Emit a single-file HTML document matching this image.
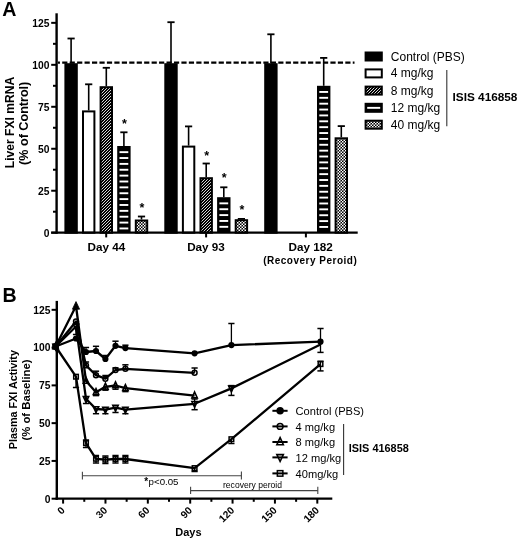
<!DOCTYPE html>
<html><head><meta charset="utf-8"><title>FXI</title>
<style>
html,body{margin:0;padding:0;background:#fff;}
body{width:520px;height:541px;overflow:hidden;}
svg{display:block;font-family:"Liberation Sans", sans-serif;filter:grayscale(1);}
</style></head>
<body>
<svg width="520" height="541" viewBox="0 0 520 541">
<defs>
<pattern id="hatch" patternUnits="userSpaceOnUse" width="3" height="3">
<rect width="3" height="3" fill="#000"/>
<path d="M-1 1 L1 -1 M0 3 L3 0 M2 4 L4 2" stroke="#fff" stroke-width="0.85"/>
</pattern>
<pattern id="checks" patternUnits="userSpaceOnUse" width="3" height="3">
<rect width="3" height="3" fill="#000"/>
<rect x="0" y="0" width="1.5" height="1.5" fill="#fff"/>
<rect x="1.5" y="1.5" width="1.5" height="1.5" fill="#fff"/>
</pattern>
<pattern id="stripes" patternUnits="userSpaceOnUse" width="10" height="5.87">
<rect width="10" height="5.87" fill="#000"/>
</pattern>
</defs>
<rect width="520" height="541" fill="#fff"/>
<text x="2.2" y="15.6" font-size="19.6" font-weight="bold">A</text>
<line x1="56.6" y1="13.3" x2="56.6" y2="233.8" stroke="#000" stroke-width="2.4"/>
<line x1="51.2" y1="232.7" x2="56.6" y2="232.7" stroke="#000" stroke-width="2"/>
<text x="49.4" y="236.5" font-size="10.3" font-weight="bold" text-anchor="end">0</text>
<line x1="51.2" y1="190.73" x2="56.6" y2="190.73" stroke="#000" stroke-width="2"/>
<text x="49.4" y="194.53" font-size="10.3" font-weight="bold" text-anchor="end">25</text>
<line x1="51.2" y1="148.76" x2="56.6" y2="148.76" stroke="#000" stroke-width="2"/>
<text x="49.4" y="152.56" font-size="10.3" font-weight="bold" text-anchor="end">50</text>
<line x1="51.2" y1="106.79" x2="56.6" y2="106.79" stroke="#000" stroke-width="2"/>
<text x="49.4" y="110.59" font-size="10.3" font-weight="bold" text-anchor="end">75</text>
<line x1="51.2" y1="64.82" x2="56.6" y2="64.82" stroke="#000" stroke-width="2"/>
<text x="49.4" y="68.62" font-size="10.3" font-weight="bold" text-anchor="end">100</text>
<line x1="51.2" y1="22.85" x2="56.6" y2="22.85" stroke="#000" stroke-width="2"/>
<text x="49.4" y="26.65" font-size="10.3" font-weight="bold" text-anchor="end">125</text>
<line x1="53" y1="211.71" x2="56.6" y2="211.71" stroke="#000" stroke-width="2"/>
<line x1="53" y1="169.74" x2="56.6" y2="169.74" stroke="#000" stroke-width="2"/>
<line x1="53" y1="127.77" x2="56.6" y2="127.77" stroke="#000" stroke-width="2"/>
<line x1="53" y1="85.8" x2="56.6" y2="85.8" stroke="#000" stroke-width="2"/>
<line x1="53" y1="43.83" x2="56.6" y2="43.83" stroke="#000" stroke-width="2"/>
<line x1="71.1" y1="38.5" x2="71.1" y2="63.2" stroke="#000" stroke-width="1.6"/>
<line x1="67.5" y1="38.5" x2="74.7" y2="38.5" stroke="#000" stroke-width="1.8"/>
<rect x="65.4" y="64.2" width="11.4" height="168.5" fill="#000" stroke="#000" stroke-width="2"/>
<line x1="88.7" y1="84.3" x2="88.7" y2="110.4" stroke="#000" stroke-width="1.6"/>
<line x1="85.1" y1="84.3" x2="92.3" y2="84.3" stroke="#000" stroke-width="1.8"/>
<rect x="83" y="111.4" width="11.4" height="121.3" fill="#fff" stroke="#000" stroke-width="2"/>
<line x1="106.3" y1="67.8" x2="106.3" y2="86.2" stroke="#000" stroke-width="1.6"/>
<line x1="102.7" y1="67.8" x2="109.9" y2="67.8" stroke="#000" stroke-width="1.8"/>
<rect x="100.6" y="87.2" width="11.4" height="145.5" fill="url(#hatch)" stroke="#000" stroke-width="2"/>
<line x1="123.9" y1="132.3" x2="123.9" y2="146" stroke="#000" stroke-width="1.6"/>
<line x1="120.3" y1="132.3" x2="127.5" y2="132.3" stroke="#000" stroke-width="1.8"/>
<rect x="117.2" y="146" width="13.4" height="86.7" fill="#000"/>
<rect x="119.5" y="151.2" width="8.8" height="1.9" fill="#fff"/>
<rect x="119.5" y="157.07" width="8.8" height="1.9" fill="#fff"/>
<rect x="119.5" y="162.94" width="8.8" height="1.9" fill="#fff"/>
<rect x="119.5" y="168.81" width="8.8" height="1.9" fill="#fff"/>
<rect x="119.5" y="174.68" width="8.8" height="1.9" fill="#fff"/>
<rect x="119.5" y="180.55" width="8.8" height="1.9" fill="#fff"/>
<rect x="119.5" y="186.42" width="8.8" height="1.9" fill="#fff"/>
<rect x="119.5" y="192.29" width="8.8" height="1.9" fill="#fff"/>
<rect x="119.5" y="198.16" width="8.8" height="1.9" fill="#fff"/>
<rect x="119.5" y="204.03" width="8.8" height="1.9" fill="#fff"/>
<rect x="119.5" y="209.9" width="8.8" height="1.9" fill="#fff"/>
<rect x="119.5" y="215.77" width="8.8" height="1.9" fill="#fff"/>
<rect x="119.5" y="221.64" width="8.8" height="1.9" fill="#fff"/>
<rect x="119.5" y="227.51" width="8.8" height="1.9" fill="#fff"/>
<text x="124.4" y="128" font-size="12.5" font-weight="bold" text-anchor="middle">*</text>
<line x1="141.5" y1="216.5" x2="141.5" y2="219.5" stroke="#000" stroke-width="1.6"/>
<line x1="137.9" y1="216.5" x2="145.1" y2="216.5" stroke="#000" stroke-width="1.8"/>
<rect x="135.8" y="220.5" width="11.4" height="12.2" fill="url(#checks)" stroke="#000" stroke-width="2"/>
<text x="142" y="212" font-size="12.5" font-weight="bold" text-anchor="middle">*</text>
<line x1="171" y1="22.2" x2="171" y2="63.2" stroke="#000" stroke-width="1.6"/>
<line x1="167.4" y1="22.2" x2="174.6" y2="22.2" stroke="#000" stroke-width="1.8"/>
<rect x="165.3" y="64.2" width="11.4" height="168.5" fill="#000" stroke="#000" stroke-width="2"/>
<line x1="188.6" y1="126.4" x2="188.6" y2="145.6" stroke="#000" stroke-width="1.6"/>
<line x1="185" y1="126.4" x2="192.2" y2="126.4" stroke="#000" stroke-width="1.8"/>
<rect x="182.9" y="146.6" width="11.4" height="86.1" fill="#fff" stroke="#000" stroke-width="2"/>
<line x1="206.2" y1="163.5" x2="206.2" y2="177.2" stroke="#000" stroke-width="1.6"/>
<line x1="202.6" y1="163.5" x2="209.8" y2="163.5" stroke="#000" stroke-width="1.8"/>
<rect x="200.5" y="178.2" width="11.4" height="54.5" fill="url(#hatch)" stroke="#000" stroke-width="2"/>
<text x="206.7" y="159.9" font-size="12.5" font-weight="bold" text-anchor="middle">*</text>
<line x1="223.8" y1="187.3" x2="223.8" y2="197.2" stroke="#000" stroke-width="1.6"/>
<line x1="220.2" y1="187.3" x2="227.4" y2="187.3" stroke="#000" stroke-width="1.8"/>
<rect x="217.1" y="197.2" width="13.4" height="35.5" fill="#000"/>
<rect x="219.4" y="202.4" width="8.8" height="1.9" fill="#fff"/>
<rect x="219.4" y="208.27" width="8.8" height="1.9" fill="#fff"/>
<rect x="219.4" y="214.14" width="8.8" height="1.9" fill="#fff"/>
<rect x="219.4" y="220.01" width="8.8" height="1.9" fill="#fff"/>
<rect x="219.4" y="225.88" width="8.8" height="1.9" fill="#fff"/>
<text x="224.3" y="181.9" font-size="12.5" font-weight="bold" text-anchor="middle">*</text>
<line x1="241.4" y1="218.9" x2="241.4" y2="219.2" stroke="#000" stroke-width="1.6"/>
<line x1="237.8" y1="218.9" x2="245" y2="218.9" stroke="#000" stroke-width="1.8"/>
<rect x="235.7" y="220.2" width="11.4" height="12.5" fill="url(#checks)" stroke="#000" stroke-width="2"/>
<text x="241.9" y="213.5" font-size="12.5" font-weight="bold" text-anchor="middle">*</text>
<line x1="270.9" y1="34.3" x2="270.9" y2="63.2" stroke="#000" stroke-width="1.6"/>
<line x1="267.3" y1="34.3" x2="274.5" y2="34.3" stroke="#000" stroke-width="1.8"/>
<rect x="265.2" y="64.2" width="11.4" height="168.5" fill="#000" stroke="#000" stroke-width="2"/>
<line x1="323.7" y1="57.9" x2="323.7" y2="85.8" stroke="#000" stroke-width="1.6"/>
<line x1="320.1" y1="57.9" x2="327.3" y2="57.9" stroke="#000" stroke-width="1.8"/>
<rect x="317" y="85.8" width="13.4" height="146.9" fill="#000"/>
<rect x="319.3" y="91" width="8.8" height="1.9" fill="#fff"/>
<rect x="319.3" y="96.87" width="8.8" height="1.9" fill="#fff"/>
<rect x="319.3" y="102.74" width="8.8" height="1.9" fill="#fff"/>
<rect x="319.3" y="108.61" width="8.8" height="1.9" fill="#fff"/>
<rect x="319.3" y="114.48" width="8.8" height="1.9" fill="#fff"/>
<rect x="319.3" y="120.35" width="8.8" height="1.9" fill="#fff"/>
<rect x="319.3" y="126.22" width="8.8" height="1.9" fill="#fff"/>
<rect x="319.3" y="132.09" width="8.8" height="1.9" fill="#fff"/>
<rect x="319.3" y="137.96" width="8.8" height="1.9" fill="#fff"/>
<rect x="319.3" y="143.83" width="8.8" height="1.9" fill="#fff"/>
<rect x="319.3" y="149.7" width="8.8" height="1.9" fill="#fff"/>
<rect x="319.3" y="155.57" width="8.8" height="1.9" fill="#fff"/>
<rect x="319.3" y="161.44" width="8.8" height="1.9" fill="#fff"/>
<rect x="319.3" y="167.31" width="8.8" height="1.9" fill="#fff"/>
<rect x="319.3" y="173.18" width="8.8" height="1.9" fill="#fff"/>
<rect x="319.3" y="179.05" width="8.8" height="1.9" fill="#fff"/>
<rect x="319.3" y="184.92" width="8.8" height="1.9" fill="#fff"/>
<rect x="319.3" y="190.79" width="8.8" height="1.9" fill="#fff"/>
<rect x="319.3" y="196.66" width="8.8" height="1.9" fill="#fff"/>
<rect x="319.3" y="202.53" width="8.8" height="1.9" fill="#fff"/>
<rect x="319.3" y="208.4" width="8.8" height="1.9" fill="#fff"/>
<rect x="319.3" y="214.27" width="8.8" height="1.9" fill="#fff"/>
<rect x="319.3" y="220.14" width="8.8" height="1.9" fill="#fff"/>
<rect x="319.3" y="226.01" width="8.8" height="1.9" fill="#fff"/>
<line x1="341.3" y1="126.1" x2="341.3" y2="137.3" stroke="#000" stroke-width="1.6"/>
<line x1="337.7" y1="126.1" x2="344.9" y2="126.1" stroke="#000" stroke-width="1.8"/>
<rect x="335.6" y="138.3" width="11.4" height="94.4" fill="url(#checks)" stroke="#000" stroke-width="2"/>
<line x1="58" y1="62.6" x2="354.5" y2="62.6" stroke="#000" stroke-width="2.1" stroke-dasharray="5.2 2.25" stroke-dashoffset="3.25"/>
<line x1="51.2" y1="232.7" x2="357.7" y2="232.7" stroke="#000" stroke-width="2.3"/>
<line x1="106.2" y1="232.7" x2="106.2" y2="237.4" stroke="#000" stroke-width="2"/>
<line x1="206.1" y1="232.7" x2="206.1" y2="237.4" stroke="#000" stroke-width="2"/>
<line x1="305.9" y1="232.7" x2="305.9" y2="237.4" stroke="#000" stroke-width="2"/>
<text x="106.3" y="251.2" font-size="11.7" font-weight="bold" text-anchor="middle">Day 44</text>
<text x="206" y="251.2" font-size="11.7" font-weight="bold" text-anchor="middle">Day 93</text>
<text x="310.7" y="251.2" font-size="11.7" font-weight="bold" text-anchor="middle">Day 182</text>
<text x="310.2" y="264.2" font-size="10" font-weight="bold" text-anchor="middle" letter-spacing="0.5">(Recovery Peroid)</text>
<text transform="translate(14.1 122.5) rotate(-90)" font-size="12.1" font-weight="bold" text-anchor="middle">Liver FXI mRNA</text>
<text transform="translate(27.9 123.3) rotate(-90)" font-size="12.6" font-weight="bold" text-anchor="middle">(% of Control)</text>
<rect x="364.6" y="51.5" width="18.2" height="10" fill="#000"/>
<text x="390.8" y="60.5" font-size="12">Control (PBS)</text>
<rect x="365.6" y="69.4" width="16.2" height="8" fill="#fff" stroke="#000" stroke-width="2"/>
<text x="390.8" y="77.4" font-size="12">4 mg/kg</text>
<rect x="365.6" y="86.6" width="16.2" height="8" fill="url(#hatch)" stroke="#000" stroke-width="2"/>
<text x="390.8" y="94.6" font-size="12">8 mg/kg</text>
<rect x="364.6" y="102.8" width="18.2" height="10" fill="#000"/>
<rect x="367.2" y="106.9" width="13" height="1.9" fill="#fff"/>
<text x="390.8" y="111.8" font-size="12">12 mg/kg</text>
<rect x="365.6" y="120.7" width="16.2" height="8" fill="url(#checks)" stroke="#000" stroke-width="2"/>
<text x="390.8" y="128.7" font-size="12">40 mg/kg</text>
<line x1="446.8" y1="70" x2="446.8" y2="126.2" stroke="#333" stroke-width="1.1"/>
<text x="452.5" y="100.8" font-size="11.8" font-weight="bold">ISIS 416858</text>
<text x="2.4" y="301.6" font-size="19.6" font-weight="bold">B</text>
<line x1="56.8" y1="300.9" x2="56.8" y2="499.8" stroke="#000" stroke-width="2.4"/>
<line x1="51.6" y1="498.7" x2="56.8" y2="498.7" stroke="#000" stroke-width="2"/>
<text x="50.4" y="502.5" font-size="10.3" font-weight="bold" text-anchor="end">0</text>
<line x1="51.6" y1="460.93" x2="56.8" y2="460.93" stroke="#000" stroke-width="2"/>
<text x="50.4" y="464.73" font-size="10.3" font-weight="bold" text-anchor="end">25</text>
<line x1="51.6" y1="423.15" x2="56.8" y2="423.15" stroke="#000" stroke-width="2"/>
<text x="50.4" y="426.95" font-size="10.3" font-weight="bold" text-anchor="end">50</text>
<line x1="51.6" y1="385.38" x2="56.8" y2="385.38" stroke="#000" stroke-width="2"/>
<text x="50.4" y="389.18" font-size="10.3" font-weight="bold" text-anchor="end">75</text>
<line x1="51.6" y1="347.6" x2="56.8" y2="347.6" stroke="#000" stroke-width="2"/>
<text x="50.4" y="351.4" font-size="10.3" font-weight="bold" text-anchor="end">100</text>
<line x1="51.6" y1="309.82" x2="56.8" y2="309.82" stroke="#000" stroke-width="2"/>
<text x="50.4" y="313.62" font-size="10.3" font-weight="bold" text-anchor="end">125</text>
<line x1="55.6" y1="498.6" x2="332.3" y2="498.6" stroke="#000" stroke-width="2.1"/>
<line x1="63.1" y1="498.5" x2="63.1" y2="503.6" stroke="#000" stroke-width="2"/>
<text transform="translate(65.6 511.1) rotate(-45)" font-size="10.2" font-weight="bold" text-anchor="end">0</text>
<line x1="84.28" y1="498.5" x2="84.28" y2="501.8" stroke="#000" stroke-width="2"/>
<line x1="105.47" y1="498.5" x2="105.47" y2="503.6" stroke="#000" stroke-width="2"/>
<text transform="translate(107.97 511.1) rotate(-45)" font-size="10.2" font-weight="bold" text-anchor="end">30</text>
<line x1="126.65" y1="498.5" x2="126.65" y2="501.8" stroke="#000" stroke-width="2"/>
<line x1="147.83" y1="498.5" x2="147.83" y2="503.6" stroke="#000" stroke-width="2"/>
<text transform="translate(150.33 511.1) rotate(-45)" font-size="10.2" font-weight="bold" text-anchor="end">60</text>
<line x1="169.01" y1="498.5" x2="169.01" y2="501.8" stroke="#000" stroke-width="2"/>
<line x1="190.2" y1="498.5" x2="190.2" y2="503.6" stroke="#000" stroke-width="2"/>
<text transform="translate(192.7 511.1) rotate(-45)" font-size="10.2" font-weight="bold" text-anchor="end">90</text>
<line x1="211.38" y1="498.5" x2="211.38" y2="501.8" stroke="#000" stroke-width="2"/>
<line x1="232.56" y1="498.5" x2="232.56" y2="503.6" stroke="#000" stroke-width="2"/>
<text transform="translate(235.06 511.1) rotate(-45)" font-size="10.2" font-weight="bold" text-anchor="end">120</text>
<line x1="253.75" y1="498.5" x2="253.75" y2="501.8" stroke="#000" stroke-width="2"/>
<line x1="274.93" y1="498.5" x2="274.93" y2="503.6" stroke="#000" stroke-width="2"/>
<text transform="translate(277.43 511.1) rotate(-45)" font-size="10.2" font-weight="bold" text-anchor="end">150</text>
<line x1="296.11" y1="498.5" x2="296.11" y2="501.8" stroke="#000" stroke-width="2"/>
<line x1="317.3" y1="498.5" x2="317.3" y2="503.6" stroke="#000" stroke-width="2"/>
<text transform="translate(319.8 511.1) rotate(-45)" font-size="10.2" font-weight="bold" text-anchor="end">180</text>
<text x="188.4" y="535.8" font-size="11" font-weight="bold" text-anchor="middle">Days</text>
<text transform="translate(17.3 399.7) rotate(-90)" font-size="10.8" font-weight="bold" text-anchor="middle">Plasma FXI Activity</text>
<text transform="translate(30.4 400) rotate(-90)" font-size="11.3" font-weight="bold" text-anchor="middle">(% of Baseline)</text>
<line x1="86" y1="352" x2="86" y2="347.5" stroke="#000" stroke-width="1.3"/>
<line x1="82.9" y1="347.5" x2="89.1" y2="347.5" stroke="#000" stroke-width="1.5"/>
<line x1="96" y1="351" x2="96" y2="346.3" stroke="#000" stroke-width="1.3"/>
<line x1="92.9" y1="346.3" x2="99.1" y2="346.3" stroke="#000" stroke-width="1.5"/>
<line x1="105.4" y1="359" x2="105.4" y2="355.5" stroke="#000" stroke-width="1.3"/>
<line x1="102.3" y1="355.5" x2="108.5" y2="355.5" stroke="#000" stroke-width="1.5"/>
<line x1="115.5" y1="345.8" x2="115.5" y2="341.2" stroke="#000" stroke-width="1.3"/>
<line x1="112.4" y1="341.2" x2="118.6" y2="341.2" stroke="#000" stroke-width="1.5"/>
<line x1="125.4" y1="348.1" x2="125.4" y2="345.2" stroke="#000" stroke-width="1.3"/>
<line x1="122.3" y1="345.2" x2="128.5" y2="345.2" stroke="#000" stroke-width="1.5"/>
<line x1="231.4" y1="345.1" x2="231.4" y2="323.5" stroke="#000" stroke-width="1.3"/>
<line x1="228.3" y1="323.5" x2="234.5" y2="323.5" stroke="#000" stroke-width="1.5"/>
<line x1="320.5" y1="341.7" x2="320.5" y2="328.5" stroke="#000" stroke-width="1.3"/>
<line x1="317.4" y1="328.5" x2="323.6" y2="328.5" stroke="#000" stroke-width="1.5"/>
<line x1="320.5" y1="341.7" x2="320.5" y2="352.4" stroke="#000" stroke-width="1.3"/>
<line x1="317.4" y1="352.4" x2="323.6" y2="352.4" stroke="#000" stroke-width="1.5"/>
<line x1="86" y1="365.4" x2="86" y2="362" stroke="#000" stroke-width="1.3"/>
<line x1="82.9" y1="362" x2="89.1" y2="362" stroke="#000" stroke-width="1.5"/>
<line x1="96" y1="375.2" x2="96" y2="371.2" stroke="#000" stroke-width="1.3"/>
<line x1="92.9" y1="371.2" x2="99.1" y2="371.2" stroke="#000" stroke-width="1.5"/>
<line x1="105.4" y1="378.7" x2="105.4" y2="375.5" stroke="#000" stroke-width="1.3"/>
<line x1="102.3" y1="375.5" x2="108.5" y2="375.5" stroke="#000" stroke-width="1.5"/>
<line x1="115.5" y1="370" x2="115.5" y2="367.9" stroke="#000" stroke-width="1.3"/>
<line x1="112.4" y1="367.9" x2="118.6" y2="367.9" stroke="#000" stroke-width="1.5"/>
<line x1="125.4" y1="368.8" x2="125.4" y2="364.8" stroke="#000" stroke-width="1.3"/>
<line x1="122.3" y1="364.8" x2="128.5" y2="364.8" stroke="#000" stroke-width="1.5"/>
<line x1="194.6" y1="372.8" x2="194.6" y2="368" stroke="#000" stroke-width="1.3"/>
<line x1="191.5" y1="368" x2="197.7" y2="368" stroke="#000" stroke-width="1.5"/>
<line x1="96" y1="392.2" x2="96" y2="395.6" stroke="#000" stroke-width="1.3"/>
<line x1="92.9" y1="395.6" x2="99.1" y2="395.6" stroke="#000" stroke-width="1.5"/>
<line x1="105.4" y1="386.8" x2="105.4" y2="390.2" stroke="#000" stroke-width="1.3"/>
<line x1="102.3" y1="390.2" x2="108.5" y2="390.2" stroke="#000" stroke-width="1.5"/>
<line x1="115.5" y1="385.5" x2="115.5" y2="389.2" stroke="#000" stroke-width="1.3"/>
<line x1="112.4" y1="389.2" x2="118.6" y2="389.2" stroke="#000" stroke-width="1.5"/>
<line x1="125.4" y1="388.2" x2="125.4" y2="391.6" stroke="#000" stroke-width="1.3"/>
<line x1="122.3" y1="391.6" x2="128.5" y2="391.6" stroke="#000" stroke-width="1.5"/>
<line x1="76" y1="326.5" x2="76" y2="334.5" stroke="#000" stroke-width="1.3"/>
<line x1="72.9" y1="334.5" x2="79.1" y2="334.5" stroke="#000" stroke-width="1.5"/>
<line x1="86" y1="398.9" x2="86" y2="403.5" stroke="#000" stroke-width="1.3"/>
<line x1="82.9" y1="403.5" x2="89.1" y2="403.5" stroke="#000" stroke-width="1.5"/>
<line x1="96" y1="409" x2="96" y2="413.7" stroke="#000" stroke-width="1.3"/>
<line x1="92.9" y1="413.7" x2="99.1" y2="413.7" stroke="#000" stroke-width="1.5"/>
<line x1="105.4" y1="409.7" x2="105.4" y2="413.7" stroke="#000" stroke-width="1.3"/>
<line x1="102.3" y1="413.7" x2="108.5" y2="413.7" stroke="#000" stroke-width="1.5"/>
<line x1="115.5" y1="407.7" x2="115.5" y2="412.5" stroke="#000" stroke-width="1.3"/>
<line x1="112.4" y1="412.5" x2="118.6" y2="412.5" stroke="#000" stroke-width="1.5"/>
<line x1="125.4" y1="409.7" x2="125.4" y2="413.7" stroke="#000" stroke-width="1.3"/>
<line x1="122.3" y1="413.7" x2="128.5" y2="413.7" stroke="#000" stroke-width="1.5"/>
<line x1="194.6" y1="403.8" x2="194.6" y2="409.7" stroke="#000" stroke-width="1.3"/>
<line x1="191.5" y1="409.7" x2="197.7" y2="409.7" stroke="#000" stroke-width="1.5"/>
<line x1="194.6" y1="403.8" x2="194.6" y2="399" stroke="#000" stroke-width="1.3"/>
<line x1="191.5" y1="399" x2="197.7" y2="399" stroke="#000" stroke-width="1.5"/>
<line x1="231.4" y1="388.4" x2="231.4" y2="395.4" stroke="#000" stroke-width="1.3"/>
<line x1="228.3" y1="395.4" x2="234.5" y2="395.4" stroke="#000" stroke-width="1.5"/>
<line x1="231.4" y1="388.4" x2="231.4" y2="385.6" stroke="#000" stroke-width="1.3"/>
<line x1="228.3" y1="385.6" x2="234.5" y2="385.6" stroke="#000" stroke-width="1.5"/>
<line x1="76" y1="376.7" x2="76" y2="387.5" stroke="#000" stroke-width="1.3"/>
<line x1="72.9" y1="387.5" x2="79.1" y2="387.5" stroke="#000" stroke-width="1.5"/>
<line x1="86" y1="443.1" x2="86" y2="447.5" stroke="#000" stroke-width="1.3"/>
<line x1="82.9" y1="447.5" x2="89.1" y2="447.5" stroke="#000" stroke-width="1.5"/>
<line x1="86" y1="443.1" x2="86" y2="440" stroke="#000" stroke-width="1.3"/>
<line x1="82.9" y1="440" x2="89.1" y2="440" stroke="#000" stroke-width="1.5"/>
<line x1="96" y1="458.8" x2="96" y2="463" stroke="#000" stroke-width="1.3"/>
<line x1="92.9" y1="463" x2="99.1" y2="463" stroke="#000" stroke-width="1.5"/>
<line x1="96" y1="458.8" x2="96" y2="455.5" stroke="#000" stroke-width="1.3"/>
<line x1="92.9" y1="455.5" x2="99.1" y2="455.5" stroke="#000" stroke-width="1.5"/>
<line x1="105.4" y1="459.7" x2="105.4" y2="463.5" stroke="#000" stroke-width="1.3"/>
<line x1="102.3" y1="463.5" x2="108.5" y2="463.5" stroke="#000" stroke-width="1.5"/>
<line x1="105.4" y1="459.7" x2="105.4" y2="456" stroke="#000" stroke-width="1.3"/>
<line x1="102.3" y1="456" x2="108.5" y2="456" stroke="#000" stroke-width="1.5"/>
<line x1="115.5" y1="459" x2="115.5" y2="463" stroke="#000" stroke-width="1.3"/>
<line x1="112.4" y1="463" x2="118.6" y2="463" stroke="#000" stroke-width="1.5"/>
<line x1="115.5" y1="459" x2="115.5" y2="455.5" stroke="#000" stroke-width="1.3"/>
<line x1="112.4" y1="455.5" x2="118.6" y2="455.5" stroke="#000" stroke-width="1.5"/>
<line x1="125.4" y1="459" x2="125.4" y2="463" stroke="#000" stroke-width="1.3"/>
<line x1="122.3" y1="463" x2="128.5" y2="463" stroke="#000" stroke-width="1.5"/>
<line x1="125.4" y1="459" x2="125.4" y2="455.5" stroke="#000" stroke-width="1.3"/>
<line x1="122.3" y1="455.5" x2="128.5" y2="455.5" stroke="#000" stroke-width="1.5"/>
<line x1="194.6" y1="468.1" x2="194.6" y2="471.5" stroke="#000" stroke-width="1.3"/>
<line x1="191.5" y1="471.5" x2="197.7" y2="471.5" stroke="#000" stroke-width="1.5"/>
<line x1="231.4" y1="439.2" x2="231.4" y2="443.5" stroke="#000" stroke-width="1.3"/>
<line x1="228.3" y1="443.5" x2="234.5" y2="443.5" stroke="#000" stroke-width="1.5"/>
<line x1="320.5" y1="364.1" x2="320.5" y2="370.9" stroke="#000" stroke-width="1.3"/>
<line x1="317.4" y1="370.9" x2="323.6" y2="370.9" stroke="#000" stroke-width="1.5"/>
<line x1="320.5" y1="364.1" x2="320.5" y2="361.2" stroke="#000" stroke-width="1.3"/>
<line x1="317.4" y1="361.2" x2="323.6" y2="361.2" stroke="#000" stroke-width="1.5"/>
<path d="M55.6 346.5 L76 376.7 L86 443.1 L96 458.8 L105.4 459.7 L115.5 459 L125.4 459 L194.6 468.1 L231.4 439.2 L320.5 364.1" fill="none" stroke="#000" stroke-width="2.3" stroke-linejoin="round"/>
<path d="M55.6 346.5 L76 326.5 L86 398.9 L96 409 L105.4 409.7 L115.5 407.7 L125.4 409.7 L194.6 403.8 L231.4 388.4 L320.5 344.5" fill="none" stroke="#000" stroke-width="2.3" stroke-linejoin="round"/>
<path d="M55.6 346.5 L76 306 L86 381 L96 392.2 L105.4 386.8 L115.5 385.5 L125.4 388.2 L194.6 395.6" fill="none" stroke="#000" stroke-width="2.3" stroke-linejoin="round"/>
<path d="M55.6 346.5 L76 321.5 L86 365.4 L96 375.2 L105.4 378.7 L115.5 370 L125.4 368.8 L194.6 372.8" fill="none" stroke="#000" stroke-width="2.3" stroke-linejoin="round"/>
<path d="M55.6 346.5 L76 338.5 L86 352 L96 351 L105.4 359 L115.5 345.8 L125.4 348.1 L194.6 353.3 L231.4 345.1 L320.5 341.7" fill="none" stroke="#000" stroke-width="2.3" stroke-linejoin="round"/>
<rect x="53.3" y="344.2" width="4.6" height="4.6" fill="none" stroke="#000" stroke-width="1.5"/>
<rect x="73.7" y="374.4" width="4.6" height="4.6" fill="none" stroke="#000" stroke-width="1.5"/>
<rect x="83.7" y="440.8" width="4.6" height="4.6" fill="none" stroke="#000" stroke-width="1.5"/>
<rect x="93.7" y="456.5" width="4.6" height="4.6" fill="none" stroke="#000" stroke-width="1.5"/>
<rect x="103.1" y="457.4" width="4.6" height="4.6" fill="none" stroke="#000" stroke-width="1.5"/>
<rect x="113.2" y="456.7" width="4.6" height="4.6" fill="none" stroke="#000" stroke-width="1.5"/>
<rect x="123.1" y="456.7" width="4.6" height="4.6" fill="none" stroke="#000" stroke-width="1.5"/>
<rect x="192.3" y="465.8" width="4.6" height="4.6" fill="none" stroke="#000" stroke-width="1.5"/>
<rect x="229.1" y="436.9" width="4.6" height="4.6" fill="none" stroke="#000" stroke-width="1.5"/>
<rect x="318.2" y="361.8" width="4.6" height="4.6" fill="none" stroke="#000" stroke-width="1.5"/>
<path d="M55.6 349.9 L58.3 344.2 L52.9 344.2 Z" fill="none" stroke="#000" stroke-width="1.6" stroke-linejoin="miter"/>
<path d="M76 329.9 L78.7 324.2 L73.3 324.2 Z" fill="none" stroke="#000" stroke-width="1.6" stroke-linejoin="miter"/>
<path d="M86 402.3 L88.7 396.6 L83.3 396.6 Z" fill="none" stroke="#000" stroke-width="1.6" stroke-linejoin="miter"/>
<path d="M96 412.4 L98.7 406.7 L93.3 406.7 Z" fill="none" stroke="#000" stroke-width="1.6" stroke-linejoin="miter"/>
<path d="M105.4 413.1 L108.1 407.4 L102.7 407.4 Z" fill="none" stroke="#000" stroke-width="1.6" stroke-linejoin="miter"/>
<path d="M115.5 411.1 L118.2 405.4 L112.8 405.4 Z" fill="none" stroke="#000" stroke-width="1.6" stroke-linejoin="miter"/>
<path d="M125.4 413.1 L128.1 407.4 L122.7 407.4 Z" fill="none" stroke="#000" stroke-width="1.6" stroke-linejoin="miter"/>
<path d="M194.6 407.2 L197.3 401.5 L191.9 401.5 Z" fill="none" stroke="#000" stroke-width="1.6" stroke-linejoin="miter"/>
<path d="M231.4 391.8 L234.1 386.1 L228.7 386.1 Z" fill="none" stroke="#000" stroke-width="1.6" stroke-linejoin="miter"/>
<path d="M55.6 342.9 L58.3 348.8 L52.9 348.8 Z" fill="none" stroke="#000" stroke-width="1.6" stroke-linejoin="miter"/>
<path d="M76 301.6 L79.6 309.2 L72.4 309.2 Z" fill="#000" stroke="#000" stroke-width="0.8"/>
<path d="M86 377.4 L88.7 383.3 L83.3 383.3 Z" fill="none" stroke="#000" stroke-width="1.6" stroke-linejoin="miter"/>
<path d="M96 388.6 L98.7 394.5 L93.3 394.5 Z" fill="none" stroke="#000" stroke-width="1.6" stroke-linejoin="miter"/>
<path d="M105.4 383.2 L108.1 389.1 L102.7 389.1 Z" fill="none" stroke="#000" stroke-width="1.6" stroke-linejoin="miter"/>
<path d="M115.5 381.9 L118.2 387.8 L112.8 387.8 Z" fill="none" stroke="#000" stroke-width="1.6" stroke-linejoin="miter"/>
<path d="M125.4 384.6 L128.1 390.5 L122.7 390.5 Z" fill="none" stroke="#000" stroke-width="1.6" stroke-linejoin="miter"/>
<path d="M194.6 392 L197.3 397.9 L191.9 397.9 Z" fill="none" stroke="#000" stroke-width="1.6" stroke-linejoin="miter"/>
<circle cx="55.6" cy="346.5" r="2.45" fill="none" stroke="#000" stroke-width="1.5"/>
<circle cx="76" cy="321.5" r="2.45" fill="none" stroke="#000" stroke-width="1.5"/>
<circle cx="86" cy="365.4" r="2.45" fill="none" stroke="#000" stroke-width="1.5"/>
<circle cx="96" cy="375.2" r="2.45" fill="none" stroke="#000" stroke-width="1.5"/>
<circle cx="105.4" cy="378.7" r="2.45" fill="none" stroke="#000" stroke-width="1.5"/>
<circle cx="115.5" cy="370" r="2.45" fill="none" stroke="#000" stroke-width="1.5"/>
<circle cx="125.4" cy="368.8" r="2.45" fill="none" stroke="#000" stroke-width="1.5"/>
<circle cx="194.6" cy="372.8" r="2.45" fill="none" stroke="#000" stroke-width="1.5"/>
<circle cx="55.6" cy="346.5" r="3.1" fill="#000"/>
<circle cx="76" cy="338.5" r="3.1" fill="#000"/>
<circle cx="86" cy="352" r="3.1" fill="#000"/>
<circle cx="96" cy="351" r="3.1" fill="#000"/>
<circle cx="105.4" cy="359" r="3.1" fill="#000"/>
<circle cx="115.5" cy="345.8" r="3.1" fill="#000"/>
<circle cx="125.4" cy="348.1" r="3.1" fill="#000"/>
<circle cx="194.6" cy="353.3" r="3.1" fill="#000"/>
<circle cx="231.4" cy="345.1" r="3.1" fill="#000"/>
<circle cx="320.5" cy="341.7" r="3.1" fill="#000"/>
<g stroke="#444" stroke-width="1.1" fill="none">
<line x1="82.4" y1="475.7" x2="241.4" y2="475.7"/>
<line x1="82.4" y1="471.8" x2="82.4" y2="479.4"/>
<line x1="241.4" y1="471.6" x2="241.4" y2="479.6"/>
<line x1="190.6" y1="490.6" x2="317.8" y2="490.6"/>
<line x1="190.6" y1="486.8" x2="190.6" y2="494.0"/>
<line x1="317.8" y1="486.8" x2="317.8" y2="494.0"/>
</g>
<text x="146.1" y="485" font-size="10" font-weight="bold" text-anchor="middle">*</text>
<text x="148.6" y="485" font-size="9.7">p&lt;0.05</text>
<text x="252.5" y="487.7" font-size="9.2" text-anchor="middle" textLength="59" lengthAdjust="spacingAndGlyphs">recovery peroid</text>
<line x1="272.4" y1="410.8" x2="287.6" y2="410.8" stroke="#000" stroke-width="2"/>
<circle cx="280.1" cy="410.8" r="3.72" fill="#000"/>
<text x="295.6" y="415.1" font-size="11.1">Control (PBS)</text>
<line x1="272.4" y1="426.4" x2="287.6" y2="426.4" stroke="#000" stroke-width="2"/>
<circle cx="280.1" cy="426.4" r="2.94" fill="none" stroke="#000" stroke-width="1.5"/>
<text x="295.6" y="430.7" font-size="11.1">4 mg/kg</text>
<line x1="272.4" y1="442" x2="287.6" y2="442" stroke="#000" stroke-width="2"/>
<path d="M280.1 437.68 L283.34 444.76 L276.86 444.76 Z" fill="none" stroke="#000" stroke-width="1.6" stroke-linejoin="miter"/>
<text x="295.6" y="446.3" font-size="11.1">8 mg/kg</text>
<line x1="272.4" y1="457.4" x2="287.6" y2="457.4" stroke="#000" stroke-width="2"/>
<path d="M280.1 461.48 L283.34 454.64 L276.86 454.64 Z" fill="none" stroke="#000" stroke-width="1.6" stroke-linejoin="miter"/>
<text x="295.6" y="461.7" font-size="11.1">12 mg/kg</text>
<line x1="272.4" y1="473.4" x2="287.6" y2="473.4" stroke="#000" stroke-width="2"/>
<rect x="277.34" y="470.64" width="5.52" height="5.52" fill="none" stroke="#000" stroke-width="1.5"/>
<text x="295.6" y="477.7" font-size="11.1">40mg/kg</text>
<line x1="343.6" y1="424" x2="343.6" y2="475" stroke="#333" stroke-width="1.1"/>
<text x="348.8" y="452.3" font-size="10.9" font-weight="bold">ISIS 416858</text>
</svg>
</body></html>
